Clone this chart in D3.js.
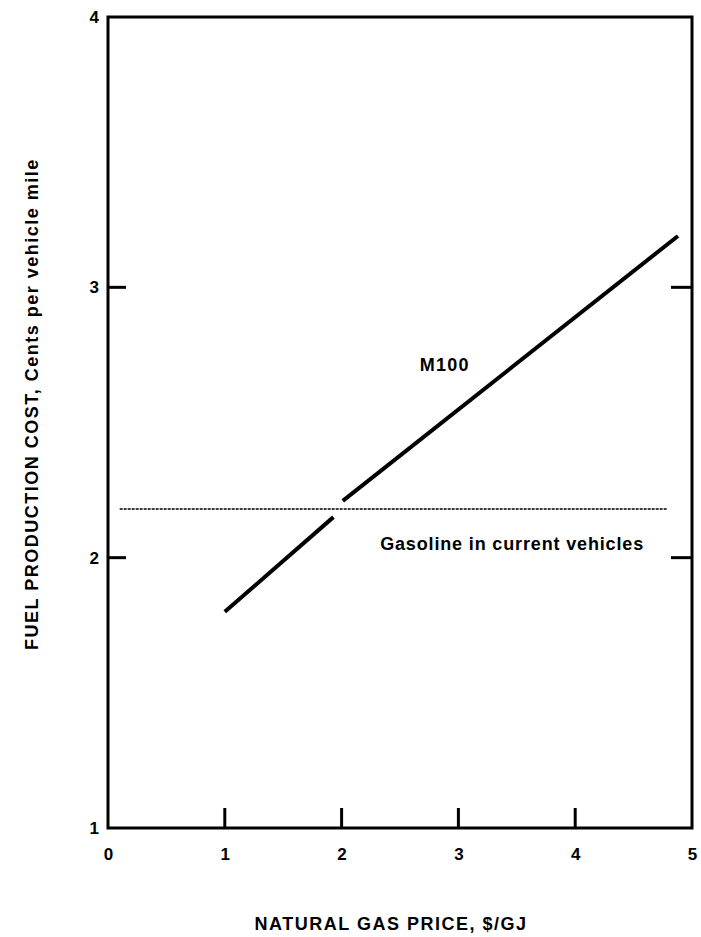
<!DOCTYPE html>
<html>
<head>
<meta charset="utf-8">
<script src="https://cdn.jsdelivr.net/npm/d3@7"></script>
<style>
  body { margin: 0; background: #fff; }
  text { font-family: "Liberation Sans", Arial, sans-serif; fill: #000; }
</style>
</head>
<body>
<div id="chart-area"></div>
<script>
// values
let xTicks = [0, 1, 2, 3, 4, 5]
let xInnerTicks = [1, 2, 3, 4]
let yTicks = [1, 2, 3, 4]
let ySideTicks = [2, 3]

// M100 is drawn in two pieces, broken where it crosses the gasoline line
let m100Low = [
  { price: 1.0, cost: 1.8 },
  { price: 1.93, cost: 2.15 }
]
let m100High = [
  { price: 2.01, cost: 2.21 },
  { price: 4.88, cost: 3.19 }
]
let gasoline = [
  { price: 0.1, cost: 2.18 },
  { price: 4.79, cost: 2.18 }
]

let svgW = 701
let svgH = 937

let margin = { left: 108, right: 9, top: 17, bottom: 109 }
let chartW = svgW - margin.left - margin.right
let chartH = svgH - margin.top - margin.bottom

let x = d3.scaleLinear().domain([0, 5]).range([0, chartW])
let y = d3.scaleLinear().domain([1, 4]).range([chartH, 0])

let svg = d3.select("#chart-area")
  .append("svg")
  .attr("width", svgW)
  .attr("height", svgH)

let group = svg.append("g")
  .attr("transform", `translate(${margin.left},${margin.top})`)

// frame
group.append("rect")
  .attr("x", x(0))
  .attr("y", y(4))
  .attr("width", x(5) - x(0))
  .attr("height", y(1) - y(4))
  .attr("fill", "none")
  .attr("stroke", "#000")
  .attr("stroke-width", 3)

// bottom labels
let groupX = group.append("g")
  .attr("transform", `translate(0, ${chartH})`)
  .call(d3.axisBottom(x).tickValues(xTicks).tickSize(0).tickPadding(20).tickFormat(d3.format("d")))
groupX.select(".domain").remove()
groupX.selectAll("text")
  .style("font-size", "17px")
  .style("font-weight", "bold")

// bottom ticks pointing up
group.selectAll(".xtick")
  .data(xInnerTicks)
  .enter()
  .append("line")
  .attr("class", "xtick")
  .attr("x1", d => x(d))
  .attr("x2", d => x(d))
  .attr("y1", y(1))
  .attr("y2", y(1) - 20)
  .attr("stroke", "#000")
  .attr("stroke-width", 3)

// left labels
let groupY = group.append("g")
  .call(d3.axisLeft(y).tickValues(yTicks).tickSize(0).tickPadding(9).tickFormat(d3.format("d")))
groupY.select(".domain").remove()
groupY.selectAll("text")
  .style("font-size", "17px")
  .style("font-weight", "bold")

group.selectAll(".yleft")
  .data(ySideTicks)
  .enter()
  .append("line")
  .attr("class", "yleft")
  .attr("x1", x(0))
  .attr("x2", x(0) + 18)
  .attr("y1", d => y(d))
  .attr("y2", d => y(d))
  .attr("stroke", "#000")
  .attr("stroke-width", 3)

group.selectAll(".yright")
  .data(ySideTicks)
  .enter()
  .append("line")
  .attr("class", "yright")
  .attr("x1", x(5))
  .attr("x2", x(5) - 21)
  .attr("y1", d => y(d))
  .attr("y2", d => y(d))
  .attr("stroke", "#000")
  .attr("stroke-width", 3)

let line = d3.line()
  .x(d => x(d.price))
  .y(d => y(d.cost))

group.append("path")
  .datum(gasoline)
  .attr("d", line)
  .attr("fill", "none")
  .attr("stroke", "#000")
  .attr("stroke-width", 1.6)
  .attr("stroke-dasharray", "3,1")

group.selectAll(".m100")
  .data([m100Low, m100High])
  .enter()
  .append("path")
  .attr("class", "m100")
  .attr("d", line)
  .attr("fill", "none")
  .attr("stroke", "#000")
  .attr("stroke-width", 4)

// line labels
group.append("text")
  .attr("x", x(2.67))
  .attr("y", y(2.69))
  .style("font-size", "18px")
  .style("font-weight", "bold")
  .style("letter-spacing", "1.2px")
  .text("M100")

group.append("text")
  .attr("x", x(2.33))
  .attr("y", y(2.03))
  .style("font-size", "18px")
  .style("font-weight", "bold")
  .style("letter-spacing", "0.85px")
  .text("Gasoline in current vehicles")

// axis titles
svg.append("text")
  .attr("x", 391)
  .attr("y", 930)
  .attr("text-anchor", "middle")
  .style("font-size", "18px")
  .style("font-weight", "bold")
  .style("letter-spacing", "1.5px")
  .text("NATURAL GAS PRICE, $/GJ")

svg.append("text")
  .attr("transform", "translate(38, 404) rotate(-90)")
  .attr("text-anchor", "middle")
  .style("font-size", "18px")
  .style("font-weight", "bold")
  .style("letter-spacing", "1.5px")
  .text("FUEL PRODUCTION COST, Cents per vehicle mile")
</script>
</body>
</html>
